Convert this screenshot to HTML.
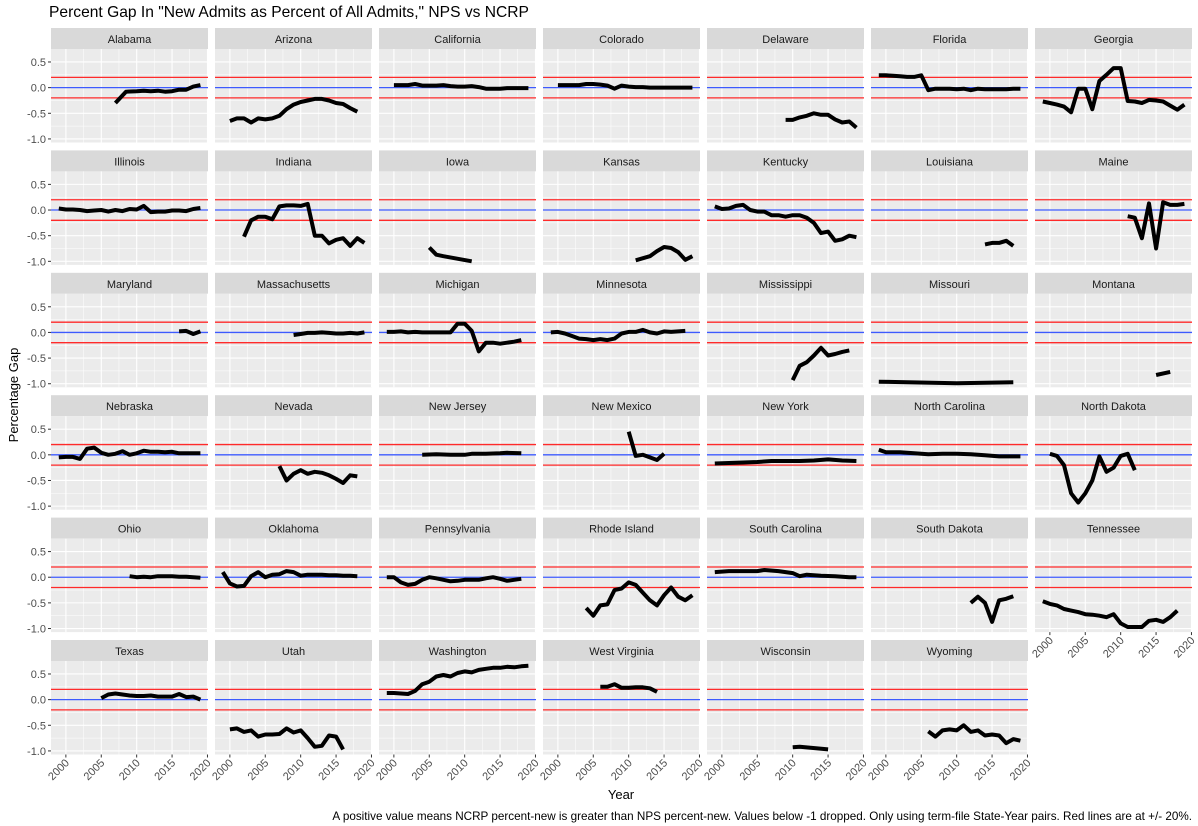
<!DOCTYPE html>
<html><head><meta charset="utf-8"><style>
body{margin:0;background:#fff;}
svg{display:block;font-family:"Liberation Sans",sans-serif;}
</style></head><body>
<svg id="s" width="1198" height="826" xmlns="http://www.w3.org/2000/svg"></svg>
<script>
var D={
"Alabama":[[2007,-0.3],[2008.5,-0.08],[2010,-0.07],[2011,-0.06],[2012,-0.07],[2013,-0.06],[2014,-0.08],[2015,-0.07],[2016,-0.04],[2017,-0.04],[2018,0.02],[2019,0.05]],
"Arizona":[[2000,-0.65],[2001,-0.6],[2002,-0.6],[2003,-0.68],[2004,-0.6],[2005,-0.62],[2006,-0.6],[2007,-0.55],[2008,-0.42],[2009,-0.33],[2010,-0.28],[2011,-0.25],[2012,-0.22],[2013,-0.22],[2014,-0.25],[2015,-0.3],[2016,-0.32],[2017,-0.4],[2018,-0.47]],
"California":[[2000,0.05],[2001,0.05],[2002,0.05],[2003,0.07],[2004,0.04],[2005,0.04],[2006,0.04],[2007,0.05],[2008,0.03],[2009,0.02],[2010,0.02],[2011,0.03],[2012,0.01],[2013,-0.02],[2014,-0.02],[2015,-0.02],[2016,-0.01],[2017,-0.01],[2018,-0.01],[2019,-0.01]],
"Colorado":[[2000,0.05],[2001,0.05],[2002,0.05],[2003,0.05],[2004,0.07],[2005,0.07],[2006,0.06],[2007,0.04],[2008,-0.02],[2009,0.04],[2010,0.02],[2011,0.01],[2012,0.01],[2013,0],[2014,0],[2015,0],[2016,0],[2017,0],[2018,0],[2019,0]],
"Delaware":[[2009,-0.63],[2010,-0.63],[2011,-0.58],[2012,-0.55],[2013,-0.5],[2014,-0.53],[2015,-0.53],[2016,-0.62],[2017,-0.68],[2018,-0.66],[2019,-0.78]],
"Florida":[[1999,0.24],[2000,0.24],[2001,0.23],[2002,0.22],[2003,0.21],[2004,0.21],[2005,0.24],[2006,-0.05],[2007,-0.02],[2008,-0.02],[2009,-0.02],[2010,-0.03],[2011,-0.02],[2012,-0.05],[2013,-0.02],[2014,-0.03],[2015,-0.03],[2016,-0.03],[2017,-0.03],[2018,-0.02],[2019,-0.02]],
"Georgia":[[1999,-0.27],[2000,-0.3],[2001,-0.33],[2002,-0.37],[2003,-0.48],[2004,-0.02],[2005,-0.02],[2006,-0.42],[2007,0.13],[2008,0.25],[2009,0.38],[2010,0.38],[2011,-0.26],[2012,-0.27],[2013,-0.3],[2014,-0.24],[2015,-0.25],[2016,-0.27],[2017,-0.35],[2018,-0.43],[2019,-0.33]],
"Illinois":[[1999,0.03],[2000,0.01],[2001,0.01],[2002,0],[2003,-0.02],[2004,-0.01],[2005,0],[2006,-0.03],[2007,0],[2008,-0.02],[2009,0.02],[2010,0.01],[2011,0.08],[2012,-0.04],[2013,-0.03],[2014,-0.03],[2015,-0.01],[2016,-0.01],[2017,-0.02],[2018,0.02],[2019,0.04]],
"Indiana":[[2002,-0.52],[2003,-0.2],[2004,-0.13],[2005,-0.13],[2006,-0.18],[2007,0.07],[2008,0.09],[2009,0.09],[2010,0.08],[2011,0.12],[2012,-0.5],[2013,-0.5],[2014,-0.65],[2015,-0.58],[2016,-0.55],[2017,-0.7],[2018,-0.55],[2019,-0.64]],
"Iowa":[[2005,-0.73],[2006,-0.87],[2007,-0.9],[2011,-1.0]],
"Kansas":[[2011,-0.98],[2013,-0.9],[2014,-0.8],[2015,-0.72],[2016,-0.74],[2017,-0.82],[2018,-0.97],[2019,-0.9]],
"Kentucky":[[1999,0.07],[2000,0.02],[2001,0.03],[2002,0.08],[2003,0.1],[2004,0],[2005,-0.03],[2006,-0.03],[2007,-0.1],[2008,-0.1],[2009,-0.13],[2010,-0.1],[2011,-0.1],[2012,-0.15],[2013,-0.25],[2014,-0.45],[2015,-0.42],[2016,-0.6],[2017,-0.57],[2018,-0.5],[2019,-0.53]],
"Louisiana":[[2014,-0.67],[2015,-0.64],[2016,-0.64],[2017,-0.6],[2018,-0.7]],
"Maine":[[2011,-0.12],[2012,-0.15],[2013,-0.55],[2014,0.13],[2015,-0.75],[2016,0.15],[2017,0.1],[2018,0.1],[2019,0.12]],
"Maryland":[[2016,0.02],[2017,0.03],[2018,-0.03],[2019,0.02]],
"Massachusetts":[[2009,-0.05],[2010,-0.03],[2011,-0.01],[2012,-0.01],[2013,0],[2014,-0.01],[2015,-0.02],[2016,-0.02],[2017,-0.01],[2018,-0.02],[2019,0]],
"Michigan":[[1999,0.01],[2000,0.01],[2001,0.02],[2002,0],[2003,0.01],[2004,0],[2005,0],[2006,0],[2007,0],[2008,0],[2009,0.17],[2010,0.17],[2011,0.03],[2012,-0.37],[2013,-0.2],[2014,-0.2],[2015,-0.22],[2016,-0.2],[2017,-0.18],[2018,-0.15]],
"Minnesota":[[1999,0],[2000,0.01],[2001,-0.02],[2002,-0.07],[2003,-0.12],[2004,-0.13],[2005,-0.15],[2006,-0.13],[2007,-0.15],[2008,-0.12],[2009,-0.02],[2010,0.01],[2011,0.01],[2012,0.05],[2013,0],[2014,-0.02],[2015,0.02],[2016,0.01],[2017,0.02],[2018,0.03]],
"Mississippi":[[2010,-0.93],[2011,-0.65],[2012,-0.58],[2013,-0.45],[2014,-0.3],[2015,-0.45],[2016,-0.42],[2017,-0.38],[2018,-0.35]],
"Missouri":[[1999,-0.96],[2010,-0.99],[2018,-0.97]],
"Montana":[[2015,-0.83],[2017,-0.77]],
"Nebraska":[[1999,-0.05],[2000,-0.04],[2001,-0.04],[2002,-0.08],[2003,0.12],[2004,0.14],[2005,0.04],[2006,0],[2007,0.02],[2008,0.07],[2009,0],[2010,0.03],[2011,0.08],[2012,0.06],[2013,0.06],[2014,0.05],[2015,0.06],[2016,0.03],[2017,0.03],[2018,0.03],[2019,0.03]],
"Nevada":[[2007,-0.22],[2008,-0.5],[2009,-0.37],[2010,-0.3],[2011,-0.37],[2012,-0.33],[2013,-0.35],[2014,-0.4],[2015,-0.47],[2016,-0.55],[2017,-0.4],[2018,-0.42]],
"New Jersey":[[2004,0],[2006,0.01],[2008,0],[2010,0],[2011,0.02],[2013,0.02],[2015,0.03],[2016,0.04],[2018,0.03]],
"New Mexico":[[2010,0.45],[2011,-0.02],[2012,0],[2013,-0.05],[2014,-0.1],[2015,0.02]],
"New York":[[1999,-0.17],[2001,-0.16],[2003,-0.15],[2005,-0.14],[2007,-0.12],[2009,-0.12],[2011,-0.12],[2013,-0.11],[2015,-0.09],[2017,-0.11],[2019,-0.12]],
"North Carolina":[[1999,0.1],[2000,0.05],[2002,0.05],[2004,0.03],[2006,0.01],[2008,0.02],[2010,0.02],[2012,0.01],[2014,-0.01],[2016,-0.03],[2019,-0.03]],
"North Dakota":[[2000,0.02],[2001,-0.02],[2002,-0.2],[2003,-0.75],[2004,-0.93],[2005,-0.75],[2006,-0.5],[2007,-0.03],[2008,-0.33],[2009,-0.25],[2010,-0.02],[2011,0.02],[2012,-0.3]],
"Ohio":[[2009,0.02],[2010,0],[2011,0.01],[2012,0],[2013,0.02],[2014,0.02],[2015,0.02],[2016,0.01],[2017,0.01],[2018,0],[2019,-0.01]],
"Oklahoma":[[1999,0.1],[2000,-0.12],[2001,-0.18],[2002,-0.17],[2003,0.02],[2004,0.1],[2005,0],[2006,0.05],[2007,0.06],[2008,0.12],[2009,0.1],[2010,0.03],[2011,0.05],[2012,0.05],[2013,0.05],[2014,0.04],[2015,0.04],[2016,0.03],[2017,0.03],[2018,0.02]],
"Pennsylvania":[[1999,0],[2000,0],[2001,-0.1],[2002,-0.15],[2003,-0.13],[2004,-0.05],[2005,0],[2006,-0.02],[2007,-0.05],[2008,-0.08],[2009,-0.07],[2010,-0.05],[2011,-0.05],[2012,-0.05],[2013,-0.02],[2014,0],[2015,-0.03],[2016,-0.07],[2017,-0.05],[2018,-0.03]],
"Rhode Island":[[2004,-0.6],[2005,-0.75],[2006,-0.55],[2007,-0.53],[2008,-0.25],[2009,-0.22],[2010,-0.1],[2011,-0.15],[2012,-0.3],[2013,-0.45],[2014,-0.55],[2015,-0.35],[2016,-0.2],[2017,-0.38],[2018,-0.45],[2019,-0.35]],
"South Carolina":[[1999,0.1],[2001,0.12],[2003,0.12],[2005,0.12],[2006,0.14],[2008,0.12],[2010,0.08],[2011,0.02],[2012,0.05],[2014,0.03],[2016,0.02],[2018,0],[2019,0]],
"South Dakota":[[2012,-0.5],[2013,-0.38],[2014,-0.5],[2015,-0.87],[2016,-0.45],[2017,-0.42],[2018,-0.37]],
"Tennessee":[[1999,-0.47],[2000,-0.52],[2001,-0.55],[2002,-0.62],[2003,-0.65],[2004,-0.68],[2005,-0.72],[2006,-0.73],[2007,-0.75],[2008,-0.78],[2009,-0.72],[2010,-0.9],[2011,-0.97],[2012,-0.97],[2013,-0.97],[2014,-0.85],[2015,-0.83],[2016,-0.87],[2017,-0.78],[2018,-0.65]],
"Texas":[[2005,0.03],[2006,0.1],[2007,0.12],[2008,0.1],[2009,0.08],[2010,0.07],[2011,0.07],[2012,0.08],[2013,0.06],[2014,0.06],[2015,0.06],[2016,0.11],[2017,0.05],[2018,0.06],[2019,0]],
"Utah":[[2000,-0.58],[2001,-0.56],[2002,-0.63],[2003,-0.6],[2004,-0.72],[2005,-0.68],[2006,-0.68],[2007,-0.67],[2008,-0.56],[2009,-0.64],[2010,-0.6],[2011,-0.75],[2012,-0.92],[2013,-0.9],[2014,-0.7],[2015,-0.72],[2016,-0.97]],
"Washington":[[1999,0.13],[2000,0.13],[2001,0.12],[2002,0.11],[2003,0.17],[2004,0.3],[2005,0.35],[2006,0.45],[2007,0.48],[2008,0.45],[2009,0.52],[2010,0.55],[2011,0.53],[2012,0.58],[2013,0.6],[2014,0.62],[2015,0.62],[2016,0.64],[2017,0.63],[2018,0.65],[2019,0.66]],
"West Virginia":[[2006,0.25],[2007,0.25],[2008,0.3],[2009,0.23],[2010,0.23],[2011,0.24],[2012,0.24],[2013,0.22],[2014,0.15]],
"Wisconsin":[[2010,-0.93],[2011,-0.92],[2015,-0.97]],
"Wyoming":[[2006,-0.62],[2007,-0.72],[2008,-0.6],[2009,-0.58],[2010,-0.6],[2011,-0.5],[2012,-0.63],[2013,-0.6],[2014,-0.7],[2015,-0.68],[2016,-0.7],[2017,-0.85],[2018,-0.77],[2019,-0.8]]
};
var names=Object.keys(D);
var h='';
h+='<text x="49" y="17" font-size="15.6" fill="#000">Percent Gap In "New Admits as Percent of All Admits," NPS vs NCRP</text>';
var PW=157,PH=93.5,SH=21,X0=51,DX=164;
function Y0(r){return 28+r*122.4;}
function xs(c,yr){return X0+c*DX+(yr-1997.9)*7.08;}
function ys(r,v){return Y0(r)+SH+(0.753-v)*51.3;}
names.forEach(function(n,i){
 var c=i%7,r=Math.floor(i/7);
 var L=X0+c*DX,T=Y0(r),PT=T+SH,B=PT+PH;
 h+='<rect x="'+L+'" y="'+T+'" width="'+PW+'" height="'+SH+'" fill="#D9D9D9"/>';
 h+='<text x="'+(L+PW/2)+'" y="'+(T+15)+'" font-size="11" fill="#1a1a1a" text-anchor="middle">'+n+'</text>';
 h+='<rect x="'+L+'" y="'+PT+'" width="'+PW+'" height="'+PH+'" fill="#EBEBEB"/>';
 [0.25,-0.25,-0.75].forEach(function(v){h+='<line x1="'+L+'" x2="'+(L+PW)+'" y1="'+ys(r,v)+'" y2="'+ys(r,v)+'" stroke="#fff" stroke-width="0.5"/>';});
 [2002.5,2007.5,2012.5,2017.5].forEach(function(y){h+='<line y1="'+PT+'" y2="'+B+'" x1="'+xs(c,y)+'" x2="'+xs(c,y)+'" stroke="#fff" stroke-width="0.5"/>';});
 [0.5,0,-0.5,-1].forEach(function(v){h+='<line x1="'+L+'" x2="'+(L+PW)+'" y1="'+ys(r,v)+'" y2="'+ys(r,v)+'" stroke="#fff" stroke-width="1.1"/>';});
 [2000,2005,2010,2015,2020].forEach(function(y){h+='<line y1="'+PT+'" y2="'+B+'" x1="'+xs(c,y)+'" x2="'+xs(c,y)+'" stroke="#fff" stroke-width="1.1"/>';});
 h+='<line x1="'+L+'" x2="'+(L+PW)+'" y1="'+ys(r,0.2)+'" y2="'+ys(r,0.2)+'" stroke="#FF2A2A" stroke-width="1.3"/>';
 h+='<line x1="'+L+'" x2="'+(L+PW)+'" y1="'+ys(r,-0.2)+'" y2="'+ys(r,-0.2)+'" stroke="#FF2A2A" stroke-width="1.3"/>';
 h+='<line x1="'+L+'" x2="'+(L+PW)+'" y1="'+ys(r,0)+'" y2="'+ys(r,0)+'" stroke="#3D5AFE" stroke-width="1.3"/>';
 var p=D[n].map(function(d){return xs(c,d[0]).toFixed(1)+','+ys(r,d[1]).toFixed(1);}).join(' ');
 h+='<polyline points="'+p+'" fill="none" stroke="#000" stroke-width="4" stroke-linejoin="round"/>';
 if(c==0){
  [[0.5,'0.5'],[0,'0.0'],[-0.5,'-0.5'],[-1,'-1.0']].forEach(function(t){var y=ys(r,t[0]);
   h+='<line x1="'+(L-3)+'" x2="'+L+'" y1="'+y+'" y2="'+y+'" stroke="#333" stroke-width="1"/>';
   h+='<text x="'+(L-5)+'" y="'+(y+4)+'" font-size="11" fill="#4d4d4d" text-anchor="end">'+t[1]+'</text>';});
 }
 if(r==5||(r==4&&c==6)){
  [2000,2005,2010,2015,2020].forEach(function(y){var x=xs(c,y);
   h+='<line x1="'+x+'" x2="'+x+'" y1="'+B+'" y2="'+(B+3)+'" stroke="#333" stroke-width="1"/>';
   h+='<text transform="translate('+(x+4)+','+(B+9)+') rotate(-45)" font-size="11" fill="#4d4d4d" text-anchor="end">'+y+'</text>';});
 }
});
h+='<text transform="translate(18,395) rotate(-90)" font-size="13" fill="#000" text-anchor="middle">Percentage Gap</text>';
h+='<text x="621" y="799" font-size="13" fill="#000" text-anchor="middle">Year</text>';
h+='<text x="1192" y="820" font-size="11.7" fill="#000" text-anchor="end">A positive value means NCRP percent-new is greater than NPS percent-new. Values below -1 dropped. Only using term-file State-Year pairs. Red lines are at +/- 20%.</text>';
document.getElementById('s').innerHTML=h;
</script>
</body></html>
